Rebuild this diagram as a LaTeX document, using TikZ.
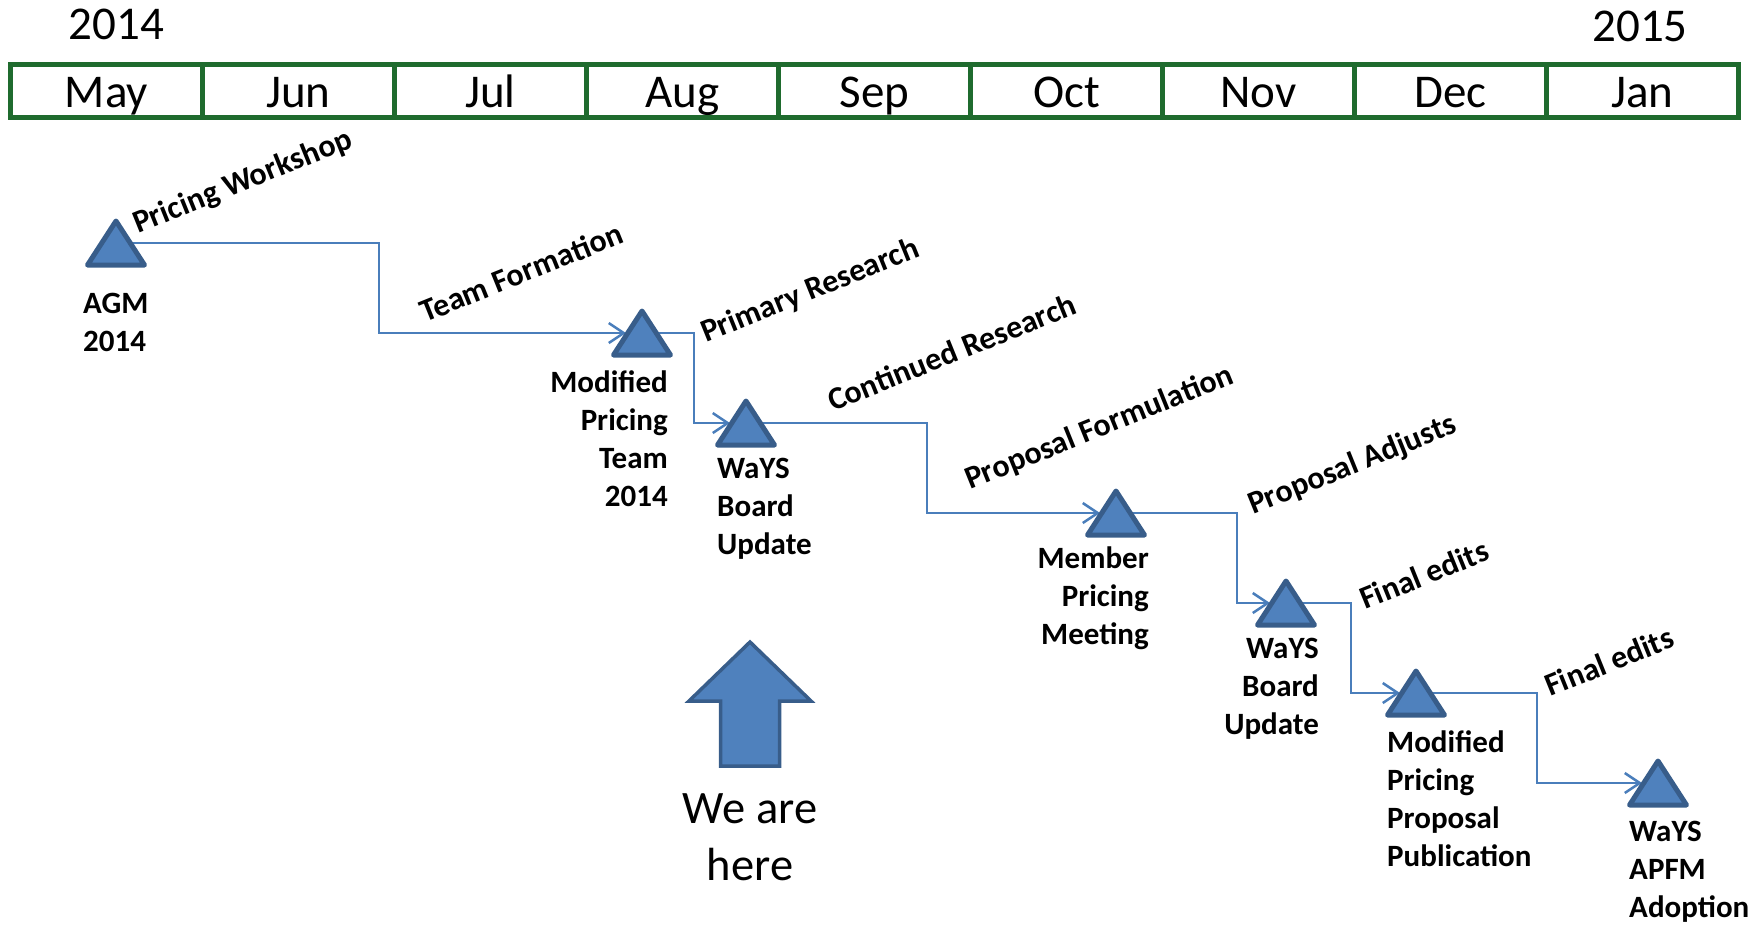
\documentclass[tikz,border=0pt]{standalone}
\usepackage{fontspec}
\setmainfont{Carlito}
\usetikzlibrary{arrows.meta,calc}
\definecolor{bargreen}{HTML}{1F6B2E}
\definecolor{trifill}{HTML}{4F81BD}
\definecolor{triedge}{HTML}{385D8A}
\definecolor{linkblue}{HTML}{4A7EBB}
\begin{document}
\begin{tikzpicture}[x=1pt,y=-1pt,
  bigtext/.style={font=\fontsize{47}{57}\selectfont, inner sep=0, anchor=base},
  lab/.style={font=\bfseries\fontsize{31}{38}\selectfont, inner sep=0},
  rlab/.style={font=\bfseries\fontsize{32}{38}\selectfont, inner sep=0, anchor=base west, rotate=22},
  conn/.style={draw=linkblue, line width=2.5pt, -{Straight Barb[length=15pt,width=20pt]}},
  tri/.style={fill=trifill, draw=triedge, line width=5pt, line join=round},
  herearrow/.style={fill=trifill, draw=triedge, line width=3.5pt, line join=miter}]
\useasboundingbox (0,0) rectangle (1760,924);
% month bar
\draw[bargreen, line width=5pt] (10.5,64.5) rectangle (1738.5,117.5);
\foreach \i in {1,...,8} \draw[bargreen, line width=5pt] ({10.5+192*\i},64.5) -- ({10.5+192*\i},117.5);
\foreach \m [count=\i from 0] in {May,Jun,Jul,Aug,Sep,Oct,Nov,Dec,Jan}
  \node[bigtext] (m\i) at ({106.5+192*\i},107) {\m};
\node[bigtext] (y2014) at (116.5,39) {2014};
\node[bigtext] (y2015) at (1640,41.5) {2015};
% milestones
\coordinate (t1) at (116,243);
\coordinate (t2) at (642,333);
\coordinate (t3) at (746,423);
\coordinate (t4) at (1116,513);
\coordinate (t5) at (1286,603);
\coordinate (t6) at (1416,693);
\coordinate (t7) at (1658,783);
\coordinate (v1) at (379,288);
\coordinate (v2) at (694,378);
\coordinate (v3) at (927,468);
\coordinate (v4) at (1237,558);
\coordinate (v5) at (1351,648);
\coordinate (v6) at (1537,738);
\draw[conn] (t1) -| (v1) |- ($(t2)+(-16,0)$);
\draw[conn] (t2) -| (v2) |- ($(t3)+(-16,0)$);
\draw[conn] (t3) -| (v3) |- ($(t4)+(-16,0)$);
\draw[conn] (t4) -| (v4) |- ($(t5)+(-16,0)$);
\draw[conn] (t5) -| (v5) |- ($(t6)+(-16,0)$);
\draw[conn] (t6) -| (v6) |- ($(t7)+(-16,0)$);
\foreach \t in {t1,t2,t3,t4,t5,t6,t7}
  \path[tri] ($(\t)+(0,-22)$) -- ($(\t)+(28.5,22)$) -- ($(\t)+(-28.5,22)$) -- cycle;
% milestone labels (base anchor = baseline of last line)
\node[lab, anchor=base west, align=left] (l1) at (83,351) {AGM\\2014};
\node[lab, anchor=base east, align=right] (l2) at (668,506) {Modified\\Pricing\\Team\\2014};
\node[lab, anchor=base west, align=left] (l3) at (717,554) {WaYS\\Board\\Update};
\node[lab, anchor=base east, align=right] (l4) at (1149,644) {Member\\Pricing\\Meeting};
\node[lab, anchor=base east, align=right] (l5) at (1319,734) {WaYS\\Board\\Update};
\node[lab, anchor=base west, align=left] (l6) at (1387,866) {Modified\\Pricing\\Proposal\\Publication};
\node[lab, anchor=base west, align=left] (l7) at (1629,917) {WaYS\\APFM\\Adoption};
% activity labels
\node[rlab] (a1) at (138,234) {Pricing Workshop};
\node[rlab] (a2) at (425,323) {Team Formation};
\node[rlab] (a3) at (706,343) {Primary Research};
\node[rlab] (a4) at (833,412) {Continued Research};
\node[rlab] (a5) at (970,490) {Proposal Formulation};
\node[rlab] (a6) at (1253,515) {Proposal Adjusts};
\node[rlab] (a7) at (1365,610) {Final edits};
\node[rlab] (a8) at (1550,697) {Final edits};
% we are here
\coordinate (here) at (750,642);
\path[herearrow] (here) -- ++(61,59) -- ++(-31.5,0) -- ++(0,65) -- ++(-59,0) -- ++(0,-65) -- ++(-31.5,0) -- cycle;
\node[bigtext, font=\fontsize{46.5}{57}\selectfont, align=center] (herelab) at (750,880) {We are\\here};
\end{tikzpicture}
\end{document}
